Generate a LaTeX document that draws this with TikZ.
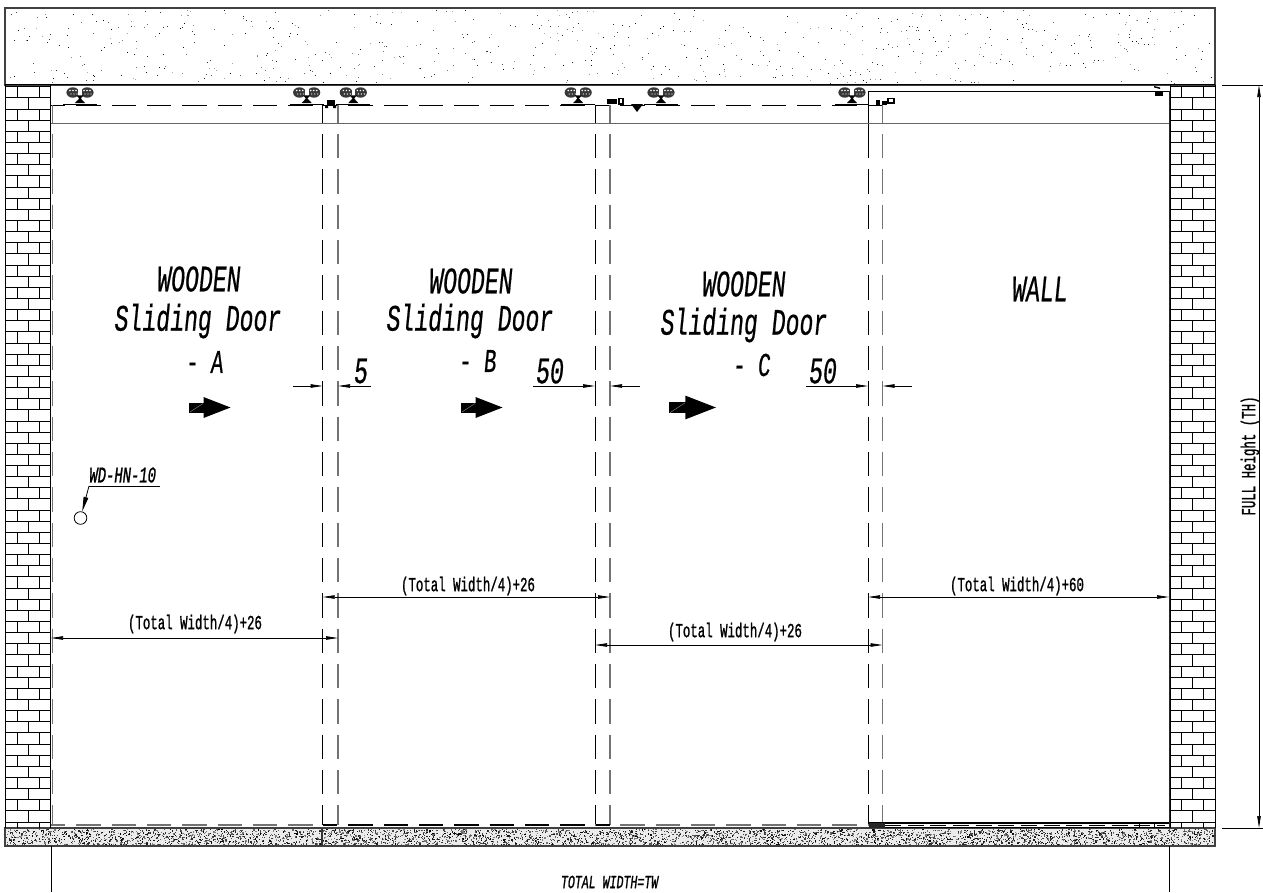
\documentclass[tikz,border=0pt]{standalone}
\usepackage{fontspec}
\setmainfont{Liberation Mono}
\newfontfamily\cad[FakeStretch=0.62,FakeSlant=0.1,FakeBold=0.5]{Liberation Mono}
\newfontfamily\cadu[FakeStretch=0.62,FakeBold=1]{Liberation Mono}
\newfontfamily\cads[FakeStretch=0.62,FakeSlant=0.12,FakeBold=1]{Liberation Mono}
\usetikzlibrary{arrows.meta}
\tikzset{
  x=0.75pt,y=-0.75pt,
  wl/.style={line width=0.75pt,black},
  thin line/.style={line width=0.6pt,black},
  door/.style={line width=0.75pt,dash pattern=on 18.2pt off 8.3pt},
  doorv/.style={door,dash phase=4.8pt},
  doorh/.style={door,dash phase=7.5pt},
  greyline/.style={black!55,line width=1pt},
  dim/.style={line width=0.55pt,black,-{Stealth[length=9pt,width=2.6pt,inset=0pt]}},
  dimb/.style={line width=0.55pt,black,{Stealth[length=9pt,width=2.6pt,inset=0pt]}-{Stealth[length=9pt,width=2.6pt,inset=0pt]}},
  bigtxt/.style={font=\cad\fontsize{28pt}{28pt}\selectfont,inner sep=0pt},
  lettertxt/.style={font=\cad\fontsize{25pt}{25pt}\selectfont,inner sep=0pt},
  midtxt/.style={font=\cadu\fontsize{15pt}{15pt}\selectfont,inner sep=0pt},
  slanttxt/.style={font=\cads\fontsize{14pt}{14pt}\selectfont,inner sep=0pt},
  hanger/.pic={
    \fill[black!78] (-7.2,-12) ellipse (6.4 and 5.2);
    \fill[black!78] (7.2,-12) ellipse (6.4 and 5.2);
    \fill[white] (-1.8,-15.5) rectangle (1.8,-9.5);
    \foreach \a in {-10,-7,-4,4,7,10}{\fill[white] (\a,-14) circle (0.8);\fill[white] (\a+1,-10.5) circle (0.7);}
    \fill[black] (-3.5,-9) -- (3.5,-9) -- (0.8,-6) -- (5,-1.5) -- (-5,-1.5) -- (-0.8,-6) -- cycle;
    \fill[black] (-17,-1) rectangle (17,0.8);
  },
  dirarrow/.pic={
    \fill[black] (0,-5) rectangle (15,5);
    \fill[black] (14.5,-10.5) -- (41.5,0) -- (14.5,10.5) -- cycle;
    \draw[black!45,line width=0.3pt] (1,4.5) -- (14,-4);
  }
}
\begin{document}
\begin{tikzpicture}
\useasboundingbox (0,0) rectangle (1263,892);
\fill[white] (0,0) rectangle (1263,892);

% speckle of the ceiling
\pgfmathsetseed{4711}
\foreach \i in {1,...,620}{
  \pgfmathsetmacro{\px}{6+rnd*1207}
  \pgfmathsetmacro{\py}{10+rnd*73}
  \pgfmathsetmacro{\pg}{30+rnd*70}
  \fill[black!\pg] (\px,\py) rectangle ++(1,1);
}
% speckle of the floor
\fill[black!8] (5,828) rectangle (1215,846);
\foreach \i in {1,...,4200}{
  \pgfmathsetmacro{\px}{6+rnd*1207}
  \pgfmathsetmacro{\py}{829+rnd*15.5}
  \pgfmathsetmacro{\pg}{45+rnd*55}
  \fill[black!\pg] (\px,\py) rectangle ++(1.2,1.2);
}
\draw[line width=0.9pt,black!75] (5,8) rectangle (1215,85);
\draw[line width=0.9pt,black!75] (5,828) rectangle (1215,846);
\draw[line width=0.9pt,black!80] (322,828) -- (322,846);

% brick walls
\foreach \xa/\xb/\xc/\xd/\xe in {5/17.5/28.7/39.5/50.5,1170/1181/1192/1203/1215}{
  \draw[wl] (\xa,85) -- (\xa,828);
  \draw[wl] (\xe,85) -- (\xe,828);
  \foreach \k in {0,...,66}{
    \pgfmathsetmacro{\ya}{86.8+\k*11.14}
    \pgfmathsetmacro{\yb}{min(\ya+11.14,828)}
    \draw[wl] (\xa,\ya) -- (\xe,\ya);
    \pgfmathparse{int(mod(\k,2))}
    \ifnum\pgfmathresult=0
      \draw[wl] (\xb,\ya) -- (\xb,\yb) (\xd,\ya) -- (\xd,\yb);
    \else
      \draw[wl] (\xc,\ya) -- (\xc,\yb);
    \fi
  }
}
\draw[wl] (5,85) -- (1215,85);

% head rail
\draw[line width=1pt,black!60] (51,123.5) -- (1169,123.5);

% doors: top dashes
\draw[doorh] (51,105) -- (338,105);
\draw[doorh] (323,105) -- (610,105);
\draw[doorh] (595,105) -- (882,105);
% door verticals
\draw[doorv,greyline] (52.5,105) -- (52.5,825);
\foreach \xx in {322.7,595,868}{
  \draw[doorv] (\xx,105) -- (\xx,825);
}
\foreach \xx in {338,610,882.5}{
  \draw[doorv,greyline] (\xx,105) -- (\xx,825);
}
% door bottoms
\draw[doorh,greyline] (51,825) -- (322,825);
\draw[doorh,greyline] (595,825) -- (868,825);
\draw[doorh,line width=1.2pt,black] (323,825) -- (610,825);
% wall panel
\draw[line width=1pt] (868,91.5) -- (1169,91.5);
\draw[line width=0.75pt] (868,91.5) -- (868,114) (868,124) -- (868,134);
\draw[line width=1.2pt,black!85] (1169.5,91.5) -- (1169.5,828);
\draw[line width=0.9pt] (869,823) -- (1169,823);
\draw[line width=0.9pt] (869,827.5) -- (1169,827.5);
\draw[line width=0.6pt,dash pattern=on 12pt off 5pt] (885,825.3) -- (1165,825.3);
\fill[black!85] (869,823) rectangle (885,827.5);
\draw[line width=0.6pt] (1139,823) -- (1139,828) (1154,823) -- (1154,828);

% hangers
\foreach \hx in {306.7,353.3,578.2,661,852}{
  \pic at (\hx,104.5) {hanger};
}
\pic at (80,104.5) {hanger};
% rail stops
\fill (327,100) rectangle (335,106);
\fill (325,106) rectangle (328,108) (333,106) rectangle (336,108);
\fill (607,98.5) rectangle (617,104);
\draw[line width=0.8pt] (619,98.5) rectangle (623,104);
\fill (631,104) -- (643,104) -- (637,112) -- cycle;
\fill (876,100) rectangle (880,105);
\fill (882,101) rectangle (887,105);
\fill (887,98) rectangle (889,103);
\draw[line width=0.9pt] (888,98.5) rectangle (894,103);
\fill (1154,86) -- (1160,87.5) -- (1160,89) -- (1154,87.5) -- cycle;
\fill (1155,91) rectangle (1163,96);

% direction arrows
\pic at (189,407.5) {dirarrow};
\pic at (461,407.5) {dirarrow};
\pic[scale=1.13] at (669,407.5) {dirarrow};

% texts
\node[bigtxt] (wa) at (198,279) {WOODEN};
\node[bigtxt] (sa) at (197,321) {Sliding Door};
\node[lettertxt] (la) at (204,362) {- A};
\node[bigtxt] (wb) at (470,281) {WOODEN};
\node[bigtxt] (sb) at (469,321) {Sliding Door};
\node[lettertxt] (lb) at (477,361) {- B};
\node[bigtxt] (wc) at (743,284) {WOODEN};
\node[bigtxt] (sc) at (743,325) {Sliding Door};
\node[lettertxt] (lc) at (751,365) {- C};
\node[bigtxt] (wl) at (1039,289) {WALL};

% gap dimensions
\coordinate (g1a) at (293,386); \coordinate (g1b) at (322.7,386);
\coordinate (g1c) at (371,386); \coordinate (g1d) at (338,386);
\draw[dim] (g1a) -- (g1b);
\draw[dim] (g1c) -- (g1d);
\node[bigtxt] (n5) at (360,371) {5};
\coordinate (g2a) at (533,386); \coordinate (g2b) at (595,386);
\coordinate (g2c) at (640,386); \coordinate (g2d) at (610,386);
\draw[dim] (g2a) -- (g2b);
\draw[dim] (g2c) -- (g2d);
\node[bigtxt] (n50a) at (549,371) {50};
\coordinate (g3a) at (806,386); \coordinate (g3b) at (868,386);
\coordinate (g3c) at (912,386); \coordinate (g3d) at (882.5,386);
\draw[dim] (g3a) -- (g3b);
\draw[dim] (g3c) -- (g3d);
\node[bigtxt] (n50b) at (822,371) {50};

% width dimensions
\coordinate (d1a) at (51,638); \coordinate (d1b) at (338,638);
\draw[dimb] (d1a) -- (d1b);
\node[midtxt] (t1) at (195,624) {(Total Width/4)+26};
\coordinate (d2a) at (322.7,597); \coordinate (d2b) at (610,597);
\draw[dimb] (d2a) -- (d2b);
\node[midtxt] (t2) at (468,586) {(Total Width/4)+26};
\coordinate (d3a) at (595,645); \coordinate (d3b) at (882.5,645);
\draw[dimb] (d3a) -- (d3b);
\node[midtxt] (t3) at (735,632) {(Total Width/4)+26};
\coordinate (d4a) at (868,597); \coordinate (d4b) at (1169,597);
\draw[dimb] (d4a) -- (d4b);
\node[midtxt] (t4) at (1017,586) {(Total Width/4)+60};

% hardware callout
\node[slanttxt,font=\cads\fontsize{16.8pt}{16.8pt}\selectfont] (hw) at (122,475) {WD-HN-10};
\node[circle,draw,line width=0.6pt,minimum size=9.5pt,inner sep=0pt] (hc) at (80.5,518) {};
\coordinate (hl) at (160,486);
\coordinate (hk) at (89,486);
\draw[thin line] (hl) -- (hk);
\draw[line width=0.6pt,-{Stealth[length=11pt,width=3.5pt,inset=0pt]}] (hk) -- (hc);

% overall width
\coordinate (e1a) at (51,846); \coordinate (e1b) at (51,892);
\coordinate (e2a) at (1169.5,846); \coordinate (e2b) at (1169.5,892);
\draw[thin line] (e1a) -- (e1b) (e2a) -- (e2b);
\node[slanttxt] (tw) at (609,882) {TOTAL WIDTH=TW};

% overall height
\coordinate (h1a) at (1222,85); \coordinate (h1b) at (1263,85);
\coordinate (h2a) at (1222,828); \coordinate (h2b) at (1263,828);
\draw[thin line] (h1a) -- (h1b) (h2a) -- (h2b);
\coordinate (h3a) at (1259,85); \coordinate (h3b) at (1259,828);
\draw[dimb] (h3a) -- (h3b);
\node[midtxt,rotate=90] (th) at (1250,456) {FULL Height (TH)};
\end{tikzpicture}
\end{document}
